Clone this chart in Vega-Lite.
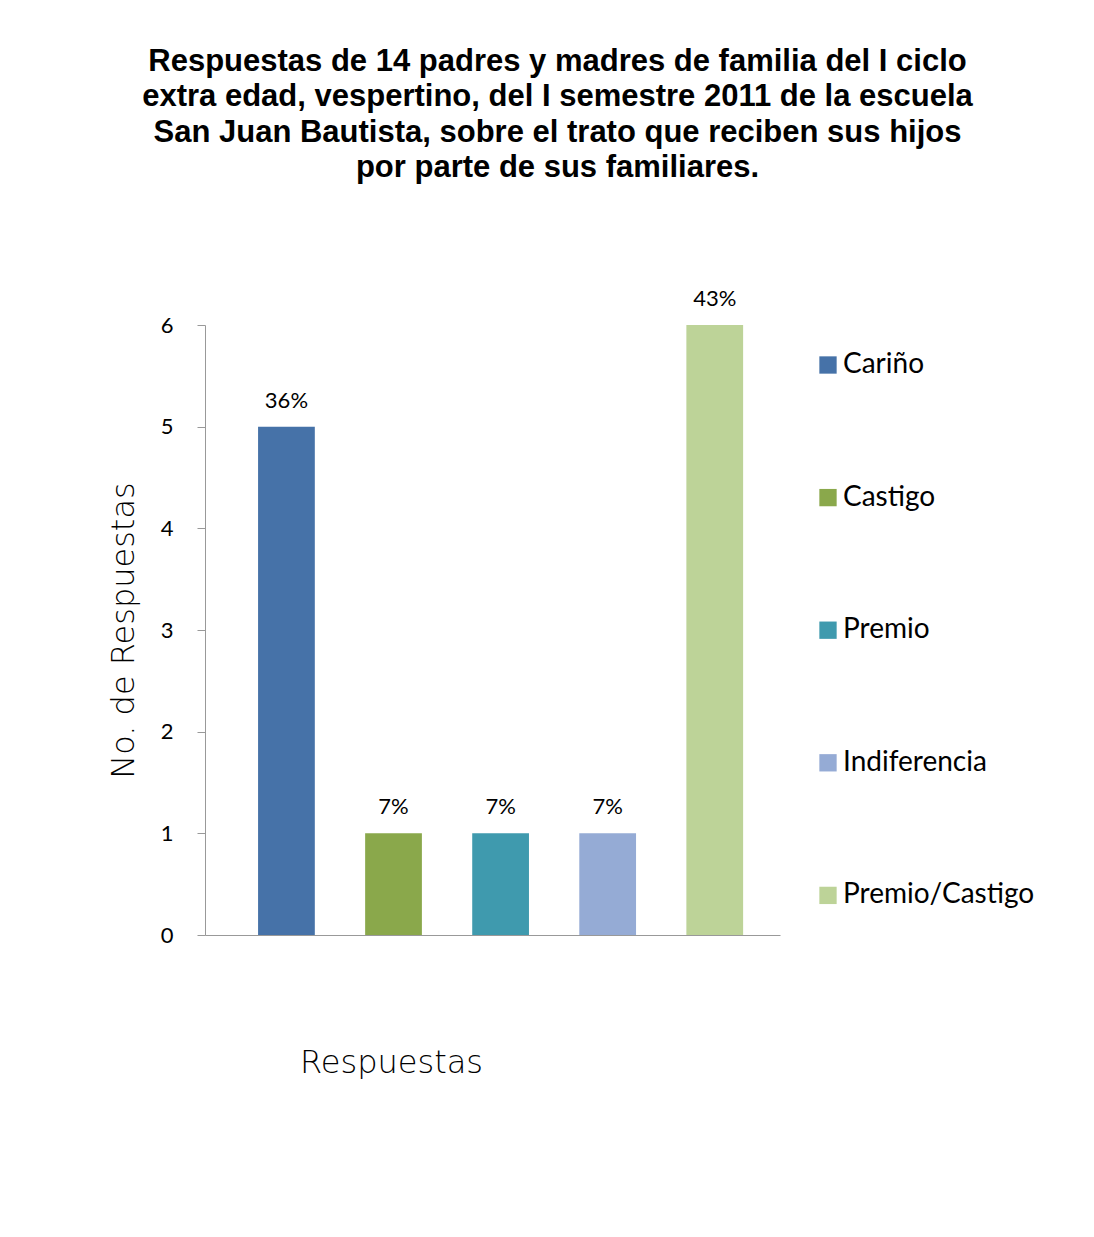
{
  "$schema": "https://vega.github.io/schema/vega-lite/v6.json",
  "width": 575,
  "height": 610,
  "autosize": "none",
  "padding": {"left": 205, "top": 325, "right": 314, "bottom": 302},
  "background": "white",
  "title": {
    "text": [
      "Respuestas de 14 padres y madres de familia del I ciclo",
      "extra edad, vespertino, del I semestre 2011 de la escuela",
      "San Juan Bautista, sobre el trato que reciben sus hijos",
      "por parte de sus familiares."
    ],
    "font": "Liberation Sans",
    "fontSize": 31,
    "fontWeight": "bold",
    "color": "black",
    "anchor": "middle",
    "dx": 65,
    "offset": 104,
    "lineHeight": 35.5
  },
  "config": {"view": {"stroke": null}},
  "data": {
    "values": [
      {"respuesta": "Cariño", "valor": 5, "porcentaje": "36%"},
      {"respuesta": "Castigo", "valor": 1, "porcentaje": "7%"},
      {"respuesta": "Premio", "valor": 1, "porcentaje": "7%"},
      {"respuesta": "Indiferencia", "valor": 1, "porcentaje": "7%"},
      {"respuesta": "Premio/Castigo", "valor": 6, "porcentaje": "43%"}
    ]
  },
  "encoding": {
    "x": {
      "field": "respuesta",
      "type": "nominal",
      "sort": null,
      "scale": {"paddingInner": 0.47, "paddingOuter": 0.42, "align": 0.59},
      "axis": {
        "labels": false,
        "ticks": false,
        "domainColor": "#999999",
        "title": "Respuestas",
        "titleFont": "DejaVu Sans",
        "titleFontSize": 32,
        "titleFontWeight": 300,
        "titleColor": "black",
        "titleX": 186,
        "titlePadding": 112
      }
    },
    "y": {
      "field": "valor",
      "type": "quantitative",
      "scale": {"domain": [0, 6]},
      "axis": {
        "values": [0, 1, 2, 3, 4, 5, 6],
        "grid": false,
        "domainColor": "#999999",
        "tickColor": "#999999",
        "tickSize": 8,
        "labelFont": "Lato",
        "labelFontSize": 22,
        "labelColor": "black",
        "labelPadding": 24,
        "title": "No. de Respuestas",
        "titleFont": "DejaVu Sans",
        "titleFontSize": 32,
        "titleFontWeight": 300,
        "titleColor": "black",
        "titlePadding": 20
      }
    }
  },
  "layer": [
    {
      "mark": {"type": "bar"},
      "encoding": {
        "color": {
          "field": "respuesta",
          "type": "nominal",
          "sort": null,
          "scale": {
            "domain": ["Cariño", "Castigo", "Premio", "Indiferencia", "Premio/Castigo"],
            "range": ["#4672A8", "#8AA84B", "#3F9AAE", "#95ABD5", "#BDD398"]
          },
          "legend": {
            "orient": "none",
            "legendX": 609,
            "legendY": 26,
            "title": null,
            "symbolType": "square",
            "symbolSize": 300,
            "symbolStrokeWidth": 0,
            "labelFont": "Lato",
            "labelFontSize": 28,
            "labelColor": "black",
            "labelLimit": 300,
            "labelOffset": 1,
            "rowPadding": 104.6
          }
        }
      }
    },
    {
      "mark": {"type": "text", "baseline": "bottom", "dy": -14, "font": "Lato", "fontSize": 22, "color": "black"},
      "encoding": {"text": {"field": "porcentaje"}}
    }
  ]
}
